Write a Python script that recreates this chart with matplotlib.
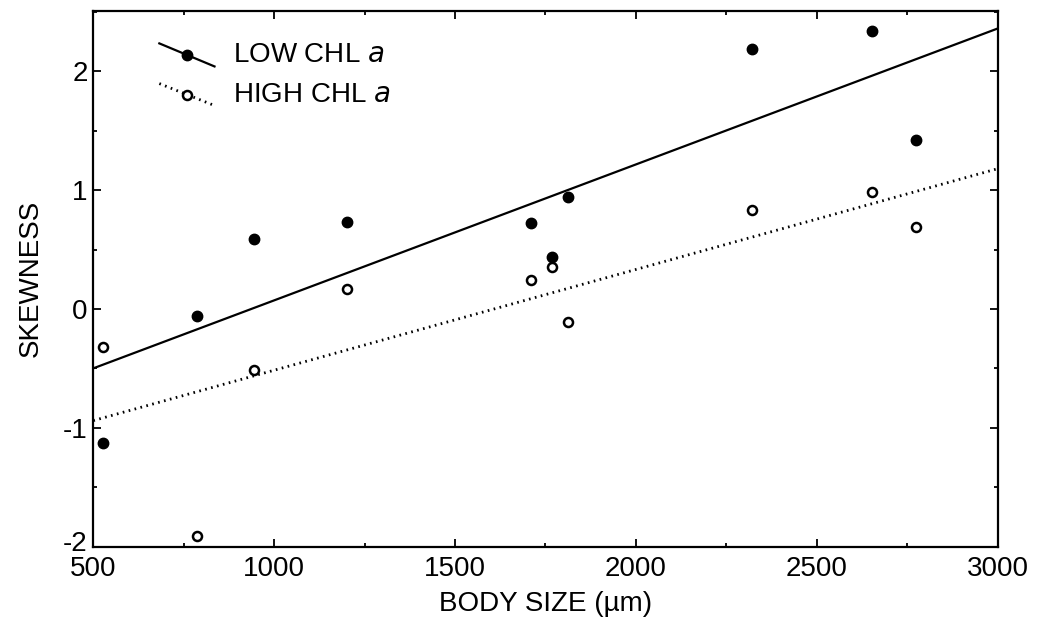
import numpy as np
import matplotlib
matplotlib.use("Agg")
import matplotlib.pyplot as plt
import matplotlib.transforms as mtransforms
from matplotlib.ticker import MultipleLocator

plt.rcParams['font.family'] = ['Liberation Sans', 'DejaVu Sans']
plt.rcParams['axes.unicode_minus'] = False

# body size (um) and skewness
body_size = [527, 787, 945, 1200, 1711, 1768, 1812, 2320, 2652, 2774]
skew_low = [-1.13, -0.06, 0.59, 0.73, 0.72, 0.44, 0.94, 2.19, 2.34, 1.42]
skew_high = [-0.32, -1.91, -0.51, 0.17, 0.24, 0.35, -0.11, 0.83, 0.98, 0.69]

# regression lines, end values
line_x = [500, 3000]
line_low = [-0.50, 2.36]
line_high = [-0.94, 1.18]

fig = plt.figure(figsize=(10.37, 6.30), dpi=100)
ax = fig.add_axes([0.090, 0.1325, 0.872, 0.8505])

ax.plot(line_x, line_low, color='black', lw=1.6)
ax.plot(line_x, line_high, color='black', lw=2.0, linestyle=(0, (0.6, 1.6)))
ax.plot(body_size, skew_low, 'o', color='black', ms=7.5, ls='none')
ax.plot(body_size, skew_high, 'o', mfc='white', mec='black', mew=1.8, ms=6.5, ls='none')

# legend drawn by hand: sloped line through marker
tr = ax.transAxes
ax.plot([0.073, 0.134], [0.939, 0.896], color='black', lw=1.6, transform=tr)
ax.plot([0.1035], [0.917], 'o', color='black', ms=7.5, transform=tr)
ax.text(0.155, 0.917, 'LOW CHL $\\mathit{a}$', transform=tr, fontsize=20, va='center')
ax.plot([0.073, 0.134], [0.864, 0.823], color='black', lw=2.0,
        linestyle=(0, (0.6, 1.6)), transform=tr)
ax.plot([0.1035], [0.843], 'o', mfc='white', mec='black', mew=1.8, ms=6.5, transform=tr)
ax.text(0.155, 0.843, 'HIGH CHL $\\mathit{a}$', transform=tr, fontsize=20, va='center')

ax.set_xlim(500, 3000)
ax.set_ylim(-2, 2.51)
ax.xaxis.set_major_locator(MultipleLocator(500))
ax.xaxis.set_minor_locator(MultipleLocator(250))
ax.yaxis.set_major_locator(MultipleLocator(1))
ax.yaxis.set_minor_locator(MultipleLocator(0.5))
ax.tick_params(which='both', direction='in', top=True, right=True, width=1.3)
ax.tick_params(which='major', length=6, labelsize=20, pad=4)
ax.tick_params(axis='x', which='major', pad=7)
ax.tick_params(which='minor', length=3)
for s in ax.spines.values():
    s.set_linewidth(1.6)

# nudge the bottom y label up a little so it clears the "500"
fig.canvas.draw()
for lab in ax.get_yticklabels():
    if lab.get_text() == '-2':
        lab.set_transform(lab.get_transform() +
                          mtransforms.ScaledTranslation(0, 4 / 72, fig.dpi_scale_trans))

ax.set_xlabel('BODY SIZE (µm)', fontsize=20, labelpad=6)
ax.set_ylabel('SKEWNESS', fontsize=20, labelpad=14)

fig.savefig('out.png', dpi=100)
